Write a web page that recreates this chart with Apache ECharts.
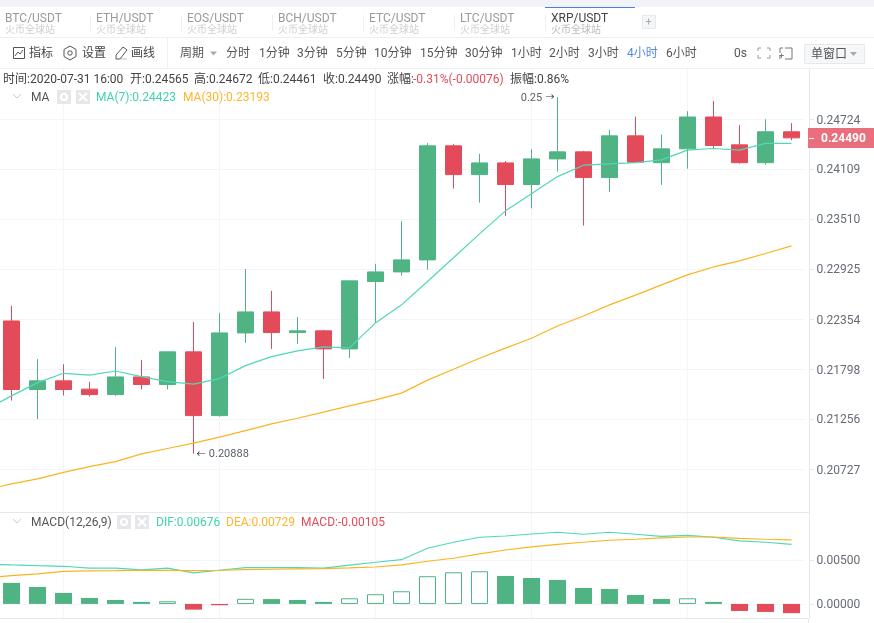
<!DOCTYPE html>
<html><head><meta charset="utf-8"><style>html,body{margin:0;background:#fff}#c{width:874px;height:623px}</style>
<script src="https://cdn.jsdelivr.net/npm/echarts@6/dist/echarts.min.js"></script></head>
<body><div id="c"></div><script>
const categories=["2020-07-26 12:00","2020-07-26 16:00","2020-07-26 20:00","2020-07-27 00:00","2020-07-27 04:00","2020-07-27 08:00","2020-07-27 12:00","2020-07-27 16:00","2020-07-27 20:00","2020-07-28 00:00","2020-07-28 04:00","2020-07-28 08:00","2020-07-28 12:00","2020-07-28 16:00","2020-07-28 20:00","2020-07-29 00:00","2020-07-29 04:00","2020-07-29 08:00","2020-07-29 12:00","2020-07-29 16:00","2020-07-29 20:00","2020-07-30 00:00","2020-07-30 04:00","2020-07-30 08:00","2020-07-30 12:00","2020-07-30 16:00","2020-07-30 20:00","2020-07-31 00:00","2020-07-31 04:00","2020-07-31 08:00","2020-07-31 12:00","2020-07-31 16:00"];
// open, close, low, high; the first slot lies left of the visible area
const open =[null,.22332,.21574,.21668,.21578,.21519,.21711,.21628,.21987,.21292,.22198,.22434,.22202,.22221,.22020,.22780,.22891,.23030,.24392,.24041,.24183,.23921,.24232,.24318,.24005,.24515,.24186,.24355,.24749,.24404,.24186,.24565];
const close=[null,.21574,.21668,.21574,.21519,.21711,.21628,.21987,.21292,.22198,.22434,.22202,.22221,.22020,.22788,.22891,.23030,.24392,.24041,.24183,.23921,.24232,.24318,.24005,.24515,.24191,.24355,.24749,.24396,.24186,.24565,.24490];
const low  =[null,.21454,.21253,.21509,.21498,.21505,.21574,.21574,.20888,.21281,.22087,.22020,.22076,.21690,.21920,.22310,.22848,.22917,.23873,.23705,.23546,.23636,.24077,.23432,.23830,.24191,.23917,.24113,.24364,.24174,.24162,.24461];
const high =[null,.22502,.21906,.21850,.21657,.22039,.21898,.21987,.22321,.22423,.22925,.22674,.22377,.22232,.22788,.22984,.23483,.24425,.24413,.24294,.24207,.24351,.25000,.24330,.24589,.24753,.24531,.24821,.24951,.24650,.24720,.24672];
const ma7  =[.21354,.21505,.21649,.21751,.21730,.21776,.21715,.21660,.21632,.21693,.21835,.21935,.21998,.22043,.22032,.22310,.22514,.22780,.23054,.23334,.23606,.23810,.24017,.24155,.24171,.24187,.24220,.24339,.24359,.24339,.24423,.24423];
const ma30 =[.20511,.20572,.20624,.20692,.20751,.20804,.20885,.20942,.20999,.21062,.21132,.21203,.21264,.21329,.21397,.21462,.21535,.21676,.21795,.21917,.22028,.22139,.22276,.22388,.22514,.22625,.22742,.22856,.22948,.23018,.23104,.23193];
const dif  =[.00454,.00443,.00435,.00428,.00406,.00406,.00386,.00406,.00352,.00383,.00412,.00412,.00412,.00406,.00440,.00474,.00503,.00633,.00701,.00758,.00772,.00795,.00815,.00792,.00815,.00792,.00769,.00780,.00758,.00716,.00701,.00676];
const dea  =[.00295,.00321,.00341,.00371,.00375,.00378,.00383,.00381,.00378,.00383,.00390,.00394,.00398,.00401,.00409,.00420,.00443,.00485,.00519,.00568,.00613,.00648,.00678,.00701,.00724,.00735,.00750,.00761,.00761,.00746,.00735,.00729];
const hist =[null,.00239,.00193,.00125,.00068,.00045,.00023,.00030,-.00065,-.00015,.00058,.00055,.00045,.00023,.00064,.00110,.00144,.00315,.00360,.00371,.00318,.00295,.00273,.00182,.00170,.00102,.00057,.00064,.00023,-.00080,-.00091,-.00105];
const priceTicks=[.20727,.21256,.21798,.22354,.22925,.23510,.24109,.24724];
const macdTicks=[0,.005];
const tabs=["BTC/USDT","ETH/USDT","EOS/USDT","BCH/USDT","ETC/USDT","LTC/USDT","XRP/USDT"];
const periods=[["分时",226],["1分钟",259],["3分钟",297],["5分钟",336],["10分钟",374],["15分钟",420],["30分钟",465],["1小时",511],["2小时",549],["3小时",588],["4小时",627],["6小时",666]];

const GREEN="#50b383",RED="#e34b5a",TEAL="#4fd8b8",ORANGE="#fbb41f",GRID="#f3f5f8",EDGE="#e6e8ec";
const FONT='Roboto,"Noto Sans CJK SC",sans-serif';
const base=priceTicks[0],step=Math.log(priceTicks[7]/priceTicks[0])/7;
const toU=p=>p==null?null:Math.log(p/base)/step;
const uTicks=priceTicks.map(toU);
const candle=categories.map((_,i)=>open[i]==null?'-':[toU(open[i]),toU(close[i]),toU(low[i]),toU(high[i])]);
const hi=high.indexOf(Math.max(...high.filter(v=>v!=null)));
const lo=low.indexOf(Math.min(...low.filter(v=>v!=null)));
const histItems=hist.map((v,i)=>{
  if(v==null)return '-';
  const prev=hist[i-1];
  const hollow=v>=0&&prev!=null&&v>prev;
  return {value:v,itemStyle:{color:v<0?RED:(hollow?'#fff':GREEN),borderColor:v<0?RED:GREEN,borderWidth:hollow?1:0}};
});
const xBase={type:'category',data:categories,boundaryGap:true,axisLabel:{show:false},axisLine:{show:false},
  axisTick:{show:false,alignWithLabel:true},
  splitLine:{show:true,alignWithLabel:true,interval:(i)=>i%6===3,lineStyle:{color:GRID,width:1}}};
const line=(name,data,color,x,y)=>({name,type:'line',data,xAxisIndex:x,yAxisIndex:y,symbol:'none',silent:true,
  lineStyle:{color,width:1.2},itemStyle:{color},z:5});
const annRich={n:{color:'#5a5f68',fontSize:11,fontFamily:FONT,padding:[2,0,0,0]},a:{color:'#333',fontSize:9,fontFamily:FONT,padding:[2,0,0,0]}};
const ann=(v,i,txt,pos)=>({coord:[i,toU(v)],value:v,symbol:'circle',symbolSize:0,
  label:{show:true,position:pos,distance:3,formatter:txt,rich:annRich}});
const tickRich={v:{color:'#666c75',fontSize:12,fontFamily:FONT,padding:[3,0,0,0]}};
const option={animation:false,backgroundColor:'#fff',
 grid:[{left:-27.5,width:832,top:69,height:443,outerBoundsMode:'none',containLabel:false},
       {left:-27.5,width:832,top:512,height:106,outerBoundsMode:'none',containLabel:false}],
 xAxis:[Object.assign({gridIndex:0},xBase),Object.assign({gridIndex:1},xBase)],
 yAxis:[{type:'value',gridIndex:0,position:'right',offset:5,min:-0.86,max:8,scale:true,
   axisLine:{show:true,onZero:false,lineStyle:{color:EDGE}},
   axisTick:{show:true,length:5,customValues:uTicks,lineStyle:{color:EDGE}},
   axisLabel:{show:true,customValues:uTicks,margin:7,rich:tickRich,
     formatter:v=>'{v|'+priceTicks[uTicks.findIndex(u=>Math.abs(u-v)<1e-6)].toFixed(5)+'}'},
   splitLine:{show:true,lineStyle:{color:GRID}}},
  {type:'value',gridIndex:1,position:'right',offset:5,min:-0.0016,max:0.01045,scale:true,
   axisLine:{show:true,onZero:false,lineStyle:{color:EDGE}},
   axisTick:{show:true,length:5,customValues:macdTicks,lineStyle:{color:EDGE}},
   axisLabel:{show:true,customValues:macdTicks,margin:7,rich:tickRich,formatter:v=>'{v|'+v.toFixed(5)+'}'},
   splitLine:{show:true,lineStyle:{color:GRID}}}],
 series:[
  {type:'candlestick',name:'XRP/USDT',data:candle,xAxisIndex:0,yAxisIndex:0,barWidth:17,silent:true,
   itemStyle:{color:GREEN,color0:RED,borderColor:GREEN,borderColor0:RED,borderWidth:1},
   markPoint:{silent:true,animation:false,data:[ann(high[hi],hi,'{n|0.25} {a|→}','left'),ann(low[lo],lo,'{a|←} {n|'+low[lo].toFixed(5)+'}','right')]}},
  line('MA7',ma7.map(toU),TEAL,0,0),line('MA30',ma30.map(toU),ORANGE,0,0),
  {type:'bar',name:'MACD',data:histItems,xAxisIndex:1,yAxisIndex:1,barWidth:17,barMinHeight:1,silent:true},
  line('DIF',dif,TEAL,1,1),line('DEA',dea,ORANGE,1,1)
 ]};
const chart=echarts.init(document.getElementById('c'),null,{renderer:'canvas'});
chart.setOption(option);

const G=[];
const T=(x,y,s,fill='#555',size=12,weight='normal')=>G.push({type:'text',z:20,silent:true,x,y:y+1,
  style:{text:s,fill,fontSize:size,fontWeight:weight,fontFamily:FONT,textVerticalAlign:'middle',verticalAlign:'middle'}});
const L=(x1,y1,x2,y2,stroke=EDGE,w=1)=>G.push({type:'line',z:19,silent:true,shape:{x1,y1,x2,y2},style:{stroke,lineWidth:w}});
const R=(x,y,w,h,fill,stroke)=>G.push({type:'rect',z:18,silent:true,shape:{x,y,width:w,height:h},style:{fill,stroke:stroke||null,lineWidth:1}});
const P=(pts,stroke='#555',w=1)=>G.push({type:'polyline',z:20,silent:true,shape:{points:pts},style:{stroke,fill:null,lineWidth:w}});
const TRI=(x,y,fill)=>G.push({type:'polygon',z:20,silent:true,shape:{points:[[x,y],[x+7,y],[x+3.5,y+4]]},style:{fill}});
// top strips
R(0,0,874,7,'#f1f3f8');
L(0,37.5,874,37.5,'#eef0f3');L(0,68.5,874,68.5,'#eef0f3');
L(167.5,38,167.5,68,'#eef0f3');
tabs.forEach((t,i)=>{const x=5+91*i;
  T(x,17.5,t,i===6?'#444':'#9a9a9a',12);T(x,29,'火币全球站',i===6?'#bbb':'#cfcfcf',10);
  if(i>0)L(x-5.5,15,x-5.5,31,'#eef0f3');});
L(545,7.5,635,7.5,'#4a80d8',1);
R(642.5,15.5,13,13,'#f5f6f7','#e6e8ec');T(645.5,21,'+','#aaa',11);
// toolbar
R(13.5,47.5,11,11,null,'#555');P([[15,56],[18,52],[20,54],[23,50]],'#555');T(29,53,'指标','#444');
G.push({type:'polygon',z:20,silent:true,shape:{points:[[70,46],[76,49.5],[76,56.5],[70,60],[64,56.5],[64,49.5]]},style:{stroke:'#555',fill:null}});
G.push({type:'circle',z:20,silent:true,shape:{cx:70,cy:53,r:2.2},style:{stroke:'#555',fill:null}});T(82,53,'设置','#444');
P([[116,59],[116,55],[123,47],[127,50],[120,59],[116,59]],'#555');P([[121,59],[127,59]],'#bbb');T(131,53,'画线','#444');
T(180,53,'周期','#555');TRI(210,51.5,'#aaa');
periods.forEach(([t,x])=>T(x,53,t,t==='4小时'?'#5a86e0':'#555'));
T(734,53,'0s','#555');
[[758,48,1,1],[770,48,-1,1],[758,58,1,-1],[770,58,-1,-1]].forEach(([x,y,a,b])=>{P([[x,y+3*b],[x,y],[x+3*a,y]],'#999');});
P([[785,48],[792,48],[792,59],[785,59]],'#777');P([[780,53],[780,48],[783,48]],'#777');P([[780,55],[780,59]],'#777');
T(779,56,'+','#777',9);
R(804.5,44.5,60,19,'#f6f7f8','#e8e9ec');T(811,54,'单窗口','#555');TRI(850,52,'#aaa');
// info row
T(3,79,'时间:2020-07-31 16:00','#444');T(130,79,'开:0.24565','#444');T(194,79,'高:0.24672','#444');
T(258,79,'低:0.24461','#444');T(323,79,'收:0.24490','#444');T(387,79,'涨幅:','#444');
T(413,79,'-0.31%(-0.00076)',RED);T(510,79,'振幅:0.86%','#444');
// indicator rows
const chev=(y)=>P([[13,y-2],[17,y+2],[21,y-2]],'#c8ccd2');
const boxes=(x1,x2,y)=>{R(x1,y-7,14,14,'#e6e7ea');G.push({type:'circle',z:20,silent:true,shape:{cx:x1+7,cy:y,r:3},style:{stroke:'#fff',lineWidth:2,fill:null}});
  R(x2,y-7,14,14,'#e6e7ea');L(x2+3,y-4,x2+11,y+4,'#fff',2);L(x2+11,y-4,x2+3,y+4,'#fff',2);};
chev(96);T(31,96.5,'MA','#555');boxes(57,76,97);
T(96,96.5,'MA(7):0.24423','#3fd4ae');T(183,96.5,'MA(30):0.23193','#fdb52a');
chev(521);T(31,521.5,'MACD(12,26,9)','#555');boxes(117,135,522);
T(156,521.5,'DIF:0.00676','#3fd4ae');T(226,521.5,'DEA:0.00729','#fdb52a');T(301,521.5,'MACD:-0.00105',RED);
// pane edges
L(0,512.5,809,512.5);L(0,618.5,809,618.5);L(808.5,618,808.5,623);
// last-price tag, placed through the price axis
const yLast=Math.round(chart.convertToPixel({yAxisIndex:0},toU(close[31])));
R(808,yLast-10,66,20,'#e86f7b');L(809,yLast+.5,814,yLast+.5,'#fff');T(821,yLast,close[31].toFixed(5),'#fff',12,'bold');
chart.setOption({graphic:G});
</script></body></html>
